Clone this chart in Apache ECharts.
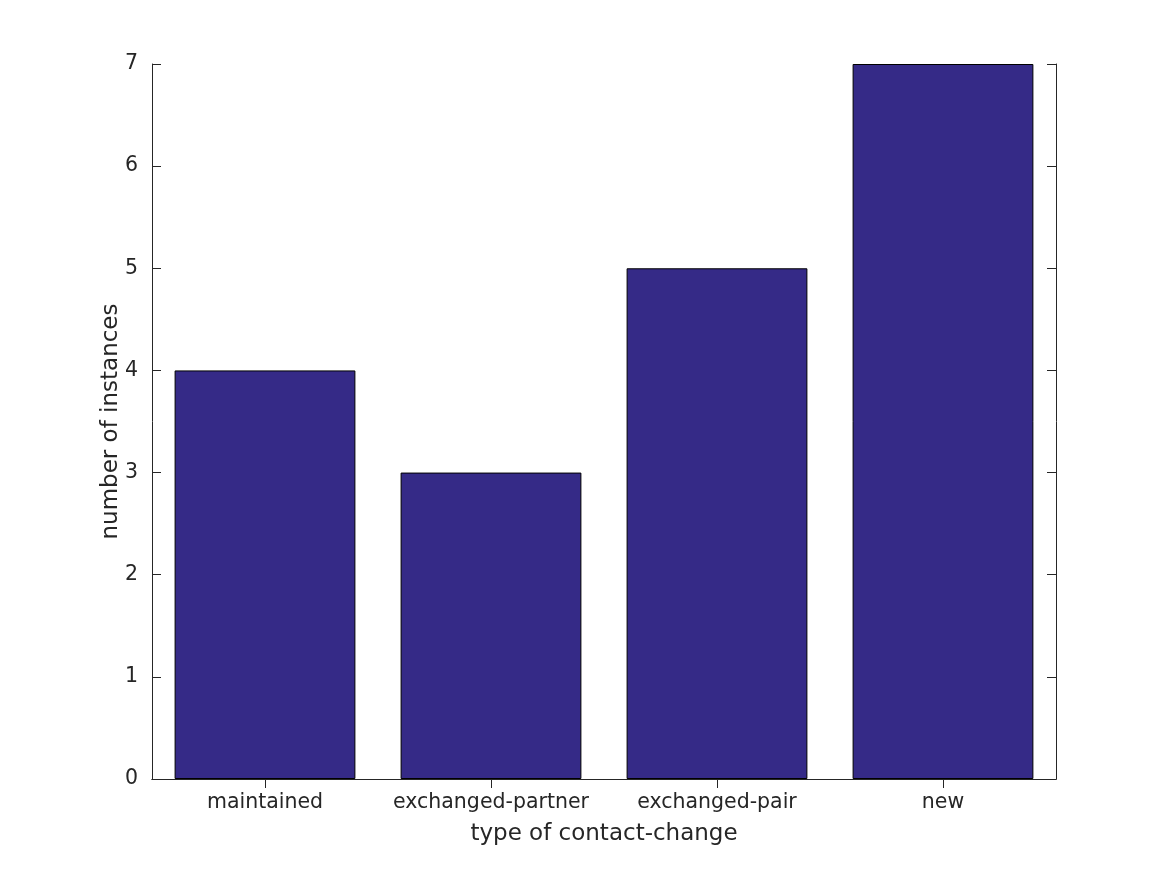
<!DOCTYPE html>
<html>
<head>
<meta charset="utf-8">
<script src="https://cdn.jsdelivr.net/npm/echarts@6/dist/echarts.min.js"></script>
<style>html,body{margin:0;padding:0;background:#fff}#c{width:1167px;height:875px}</style>
</head>
<body>
<div id="c"></div>
<script>
var categories = ['maintained', 'exchanged-partner', 'exchanged-pair', 'new'];
var counts = [4, 3, 5, 7];
var yTicks = [0, 1, 2, 3, 4, 5, 6, 7];

var chart = echarts.init(document.getElementById('c'));
var font = 'DejaVu Sans';
var axisLine = {show: true, lineStyle: {color: '#262626', width: 1}};
var tick = {show: true, inside: true, length: 9, lineStyle: {color: '#262626'}};
chart.setOption({
  animation: false,
  grid: {left: 152, right: 111, top: 64, bottom: 96, containLabel: false},
  xAxis: [{
    type: 'category', data: categories, position: 'bottom',
    axisLine: axisLine, axisTick: Object.assign({alignWithLabel: true, interval: 0}, tick),
    axisLabel: {color: '#262626', fontSize: 20.5, fontFamily: font, margin: 13, interval: 0, hideOverlap: false},
    name: 'type of contact-change', nameLocation: 'middle', nameGap: 44, nameMoveOverlap: false,
    nameTextStyle: {color: '#262626', fontSize: 23, fontFamily: font},
    splitLine: {show: false}
  }, {
    type: 'category', data: categories, position: 'top',
    axisLine: axisLine, axisTick: Object.assign({alignWithLabel: true, interval: 0}, tick),
    axisLabel: {show: false}, splitLine: {show: false}
  }],
  yAxis: [{
    type: 'value', min: 0, max: 7, interval: 1, position: 'left',
    axisLine: axisLine, axisTick: tick,
    axisLabel: {color: '#262626', fontSize: 20.5, fontFamily: font, margin: 14},
    name: 'number of instances', nameLocation: 'middle', nameGap: 29, nameMoveOverlap: false,
    nameTextStyle: {color: '#262626', fontSize: 23, fontFamily: font},
    splitLine: {show: false}
  }, {
    type: 'value', min: 0, max: 7, interval: 1, position: 'right',
    axisLine: axisLine, axisTick: tick, axisLabel: {show: false}, splitLine: {show: false}
  }],
  series: [{
    type: 'bar', data: counts, xAxisIndex: 0, yAxisIndex: 0,
    barWidth: '80%',
    itemStyle: {color: '#352a87', borderColor: '#000', borderWidth: 1}
  }]
});
</script>
</body>
</html>
